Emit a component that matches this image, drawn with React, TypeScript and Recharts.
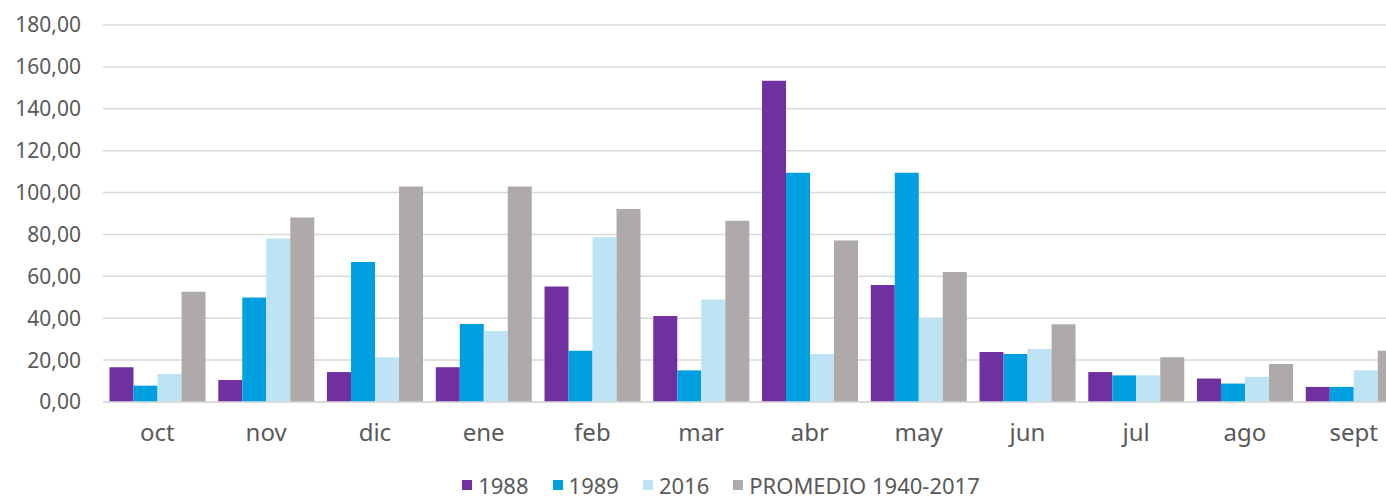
import { BarChart, Bar, XAxis, YAxis, CartesianGrid, Legend } from "recharts";

const months = ["oct", "nov", "dic", "ene", "feb", "mar", "abr", "may", "jun", "jul", "ago", "sept"];
const y1988 = [16.6, 10.5, 14.3, 16.6, 55.1, 41.1, 153.4, 55.9, 23.9, 14.3, 11.2, 7.2];
const y1989 = [7.8, 49.9, 66.9, 37.3, 24.5, 15.1, 109.5, 109.5, 22.9, 12.7, 8.8, 7.2];
const y2016 = [13.4, 78.1, 21.4, 33.9, 78.7, 48.9, 22.9, 40.0, 25.3, 12.7, 12.0, 15.1];
const promedio = [52.6, 88.1, 102.9, 102.9, 92.1, 86.5, 77.1, 62.1, 37.1, 21.4, 18.2, 24.5];
const yTicks = [0, 20, 40, 60, 80, 100, 120, 140, 160, 180];

const series = [
  { key: "y1988", name: "1988", color: "#7030A0" },
  { key: "y1989", name: "1989", color: "#009FE0" },
  { key: "y2016", name: "2016", color: "#BDE3F5" },
  { key: "promedio", name: "PROMEDIO 1940-2017", color: "#AEAAAA" },
];

const data = months.map((m, i) => ({
  month: m,
  y1988: y1988[i],
  y1989: y1989[i],
  y2016: y2016[i],
  promedio: promedio[i],
}));

const font = "'Noto Sans', sans-serif";

function LegendContent() {
  return (
    <div
      style={{
        display: "flex",
        justifyContent: "center",
        alignItems: "center",
        height: 24,
        lineHeight: "24px",
        fontFamily: font,
        fontSize: 22,
        color: "#595959",
      }}
    >
      {series.map((s, i) => (
        <div
          key={s.key}
          style={{ display: "flex", alignItems: "center", marginRight: i < series.length - 1 ? 24 : 0 }}
        >
          <span style={{ width: 10, height: 10, background: s.color, marginRight: 6, display: "inline-block" }} />
          <span>{s.name}</span>
        </div>
      ))}
    </div>
  );
}

export default function App() {
  return (
    <div
      style={{
        position: "fixed",
        left: 0,
        top: 0,
        width: 1386,
        height: 503,
        overflow: "hidden",
        background: "#fff",
      }}
    >
      <BarChart
        width={1420}
        height={503}
        data={data}
        margin={{ top: 25, right: 12, left: 0, bottom: 0 }}
        barCategoryGap="6%"
        barGap={0}
      >
        <CartesianGrid vertical={false} stroke="#D9D9D9" strokeWidth={1.5} />
        <XAxis
          dataKey="month"
          height={77}
          tickLine={false}
          tickSize={0}
          tickMargin={22}
          axisLine={{ stroke: "#D9D9D9", strokeWidth: 1.5 }}
          tick={{ fill: "#595959", fontSize: 24, fontFamily: font }}
          interval={0}
        />
        <YAxis
          width={103}
          domain={[0, 180]}
          ticks={yTicks}
          tickLine={false}
          axisLine={false}
          tickSize={0}
          tickMargin={22}
          tick={{ fill: "#595959", fontSize: 21, fontFamily: font }}
          tickFormatter={(v: number) => v.toFixed(2).replace(".", ",")}
        />
        <Legend
          verticalAlign="bottom"
          content={<LegendContent />}
          wrapperStyle={{ left: 0, width: 1442, bottom: 6, height: 24 }}
        />
        {series.map((s) => (
          <Bar key={s.key} dataKey={s.key} name={s.name} fill={s.color} isAnimationActive={false} />
        ))}
      </BarChart>
    </div>
  );
}
